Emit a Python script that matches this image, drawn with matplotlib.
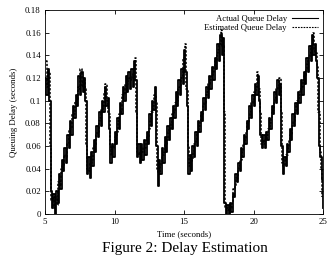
import numpy as np
import matplotlib
matplotlib.use('Agg')
import matplotlib.pyplot as plt
from matplotlib.ticker import FormatStrFormatter

# queue delay in ms, actual sampled every 0.1 s from t=5.0
actual_ms = [
    120, 105, 128, 100, 20, 5, 18, 0, 20, 10,
    35, 22, 48, 38, 58, 45, 70, 58, 82, 70,
    95, 85, 105, 95, 122, 105, 125, 108, 120, 100,
    35, 50, 32, 55, 42, 65, 55, 78, 68, 90,
    78, 100, 90, 112, 95, 102, 75, 45, 62, 50,
    72, 62, 85, 75, 98, 88, 112, 100, 122, 108,
    125, 110, 128, 112, 135, 118, 50, 62, 45, 62,
    48, 65, 52, 72, 62, 88, 78, 100, 92, 112,
    60, 25, 48, 35, 58, 45, 68, 55, 78, 65,
    85, 75, 95, 85, 108, 95, 118, 105, 128, 115,
    145, 125, 95, 35, 52, 38, 60, 50, 72, 60,
    82, 72, 90, 82, 102, 92, 112, 102, 122, 110,
    130, 118, 138, 128, 150, 135, 158, 140, 155, 10,
    0, 8, 0, 10, 2, 18, 15, 35, 28, 45,
    38, 58, 50, 70, 62, 82, 75, 95, 85, 105,
    95, 115, 105, 122, 100, 70, 58, 70, 58, 72,
    65, 85, 75, 95, 88, 108, 98, 118, 105, 115,
    60, 35, 50, 42, 62, 55, 75, 65, 88, 78,
    98, 88, 108, 98, 118, 105, 125, 115, 138, 125,
    148, 135, 158, 140, 150, 135, 120, 60, 50, 30,
    5,
]

# estimated delay in ms, sampled every 0.1 s from t=5.05
estimated_ms = [
    135, 112, 125, 60, 12, 15, 5, 15, 8, 28,
    25, 40, 42, 52, 50, 62, 62, 75, 75, 88,
    88, 100, 100, 112, 110, 128, 112, 118, 110, 60,
    40, 38, 45, 48, 58, 60, 70, 72, 82, 85,
    92, 95, 108, 115, 100, 88, 60, 52, 58, 60,
    68, 72, 82, 88, 92, 105, 105, 115, 115, 118,
    120, 118, 122, 125, 138, 90, 55, 52, 55, 55,
    58, 58, 65, 68, 75, 82, 90, 95, 105, 100,
    40, 35, 42, 45, 52, 55, 62, 65, 72, 75,
    80, 88, 90, 98, 100, 110, 112, 120, 122, 138,
    150, 110, 60, 42, 45, 48, 55, 62, 65, 72,
    78, 82, 88, 95, 98, 105, 108, 115, 118, 122,
    125, 130, 135, 142, 145, 150, 162, 148, 90, 5,
    5, 3, 6, 5, 10, 22, 25, 32, 38, 42,
    48, 55, 62, 66, 72, 80, 85, 90, 98, 100,
    108, 112, 125, 110, 90, 62, 65, 62, 65, 70,
    75, 80, 85, 92, 98, 102, 110, 112, 120, 90,
    45, 42, 48, 52, 58, 65, 70, 78, 82, 90,
    95, 100, 105, 110, 112, 118, 122, 128, 132, 138,
    142, 148, 160, 145, 142, 130, 90, 55, 40, 15,
]

t_actual = 5.0 + 0.1 * np.arange(len(actual_ms))
t_est = 5.05 + 0.1 * np.arange(len(estimated_ms))

plt.rcParams['font.family'] = ['Liberation Serif', 'DejaVu Serif']

fig = plt.figure(figsize=(3.31, 2.58), dpi=100)
ax = fig.add_axes([0.136, 0.171, 0.840, 0.790])

ax.plot(t_actual, np.array(actual_ms) / 1000, color='black', lw=1.3,
        drawstyle='steps-post', label='Actual Queue Delay')
ax.plot(t_est, np.array(estimated_ms) / 1000, color='black', lw=1.1,
        drawstyle='steps-post', linestyle=(0, (1.5, 1)),
        label='Estimated Queue Delay')

ax.set_xlim(5, 25)
ax.set_ylim(0, 0.18)
ax.set_xticks([5, 10, 15, 20, 25])
ax.set_yticks(np.arange(0, 0.181, 0.02))
ax.yaxis.set_major_formatter(FormatStrFormatter('%g'))
ax.tick_params(direction='in', top=True, right=True, labelsize=6.3,
               length=3, width=0.6, pad=3)
for s in ax.spines.values():
    s.set_linewidth(0.6)

ax.set_xlabel('Time (seconds)', fontsize=6.3, labelpad=3)
ax.set_ylabel('Queuing Delay (seconds)', fontsize=6.3, labelpad=5)

leg = ax.legend(loc='upper right', frameon=False, markerfirst=False,
                fontsize=6.2, handlelength=3, borderaxespad=0.2,
                labelspacing=0.05, handletextpad=0.6)
for h in leg.legend_handles:
    h.set_linewidth(0.8)

fig.text(0.56, 0.035, 'Figure 2: Delay Estimation', ha='center', va='center',
         fontsize=11)

fig.savefig('out.png', dpi=100)
